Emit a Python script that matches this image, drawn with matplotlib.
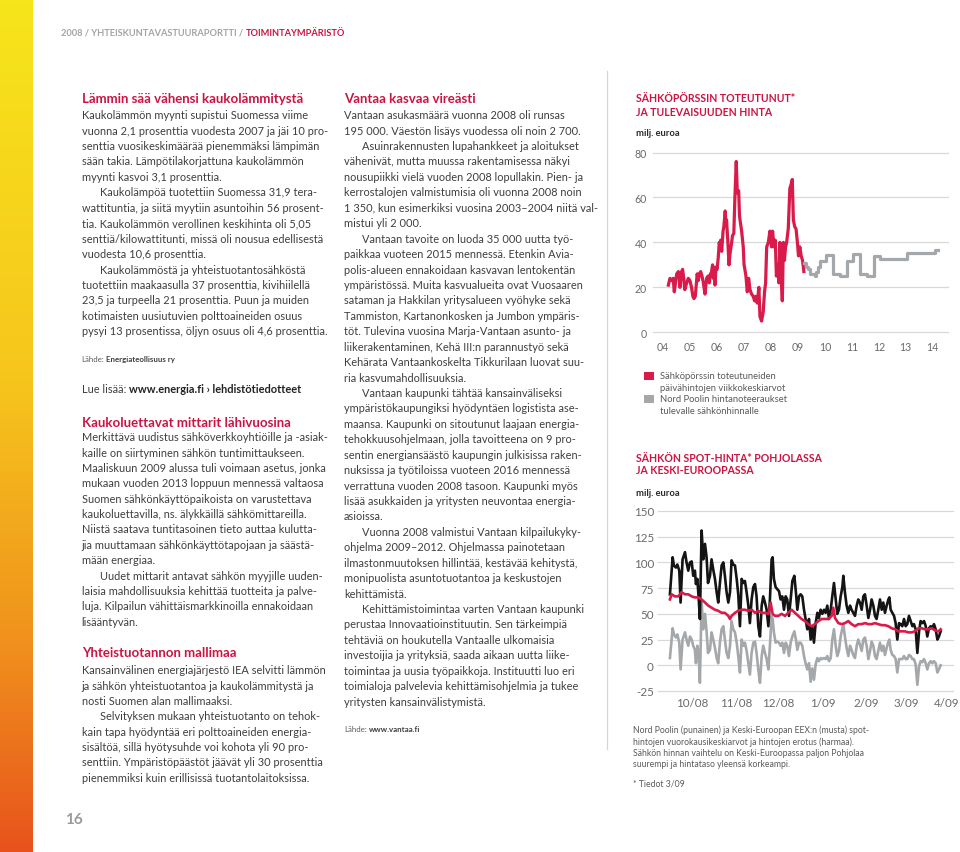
import matplotlib
matplotlib.use("Agg")
import matplotlib.pyplot as plt
import numpy as np
from matplotlib.colors import LinearSegmentedColormap
from matplotlib.lines import Line2D

W, H = 960, 853
plt.rcParams["font.family"] = ["Lato", "DejaVu Sans"]
plt.rcParams["axes.unicode_minus"] = False

CRIMSON = "#cc1443"
BODY = "#3e3e3e"
SOFT = "#5a5a5a"
RED = "#d81b4a"
LIGHT = "#a5a8ab"

# --- chart 1: weekly exchange price and futures quotes (EUR) ---
red_years = [2004.19, 2004.25, 2004.31, 2004.37, 2004.41, 2004.50, 2004.56, 2004.59, 2004.62, 2004.68,
             2004.72, 2004.76, 2004.80, 2004.87, 2004.93, 2004.99, 2005.05, 2005.10, 2005.14, 2005.19,
             2005.26, 2005.30, 2005.34, 2005.39, 2005.44, 2005.49, 2005.55, 2005.61, 2005.66, 2005.71,
             2005.75, 2005.77, 2005.83, 2005.86, 2005.88, 2005.92, 2005.96, 2006.00, 2006.04, 2006.08,
             2006.11, 2006.13, 2006.17, 2006.22, 2006.25, 2006.30, 2006.33, 2006.35, 2006.40, 2006.44,
             2006.48, 2006.54, 2006.57, 2006.62, 2006.66, 2006.71, 2006.75, 2006.80, 2006.83, 2006.85,
             2006.91, 2006.97, 2007.00, 2007.03, 2007.07, 2007.12, 2007.17, 2007.22, 2007.28, 2007.34,
             2007.39, 2007.44, 2007.49, 2007.55, 2007.59, 2007.65, 2007.71, 2007.76, 2007.80, 2007.84,
             2007.90, 2007.96, 2008.02, 2008.06, 2008.11, 2008.16, 2008.20, 2008.26, 2008.29, 2008.33,
             2008.38, 2008.42, 2008.46, 2008.50, 2008.54, 2008.58, 2008.64, 2008.70, 2008.75, 2008.79,
             2008.83, 2008.88, 2008.93, 2008.98, 2009.02, 2009.07, 2009.12, 2009.17, 2009.22]
red_price = [21, 24, 23, 24, 18, 26, 27, 25, 20, 27,
             28, 24, 19, 22, 24, 23, 20, 16, 15, 16,
             26, 23, 26, 27, 25, 22, 17, 24, 25, 22,
             26, 25, 30, 24, 29, 21, 29, 28, 33, 40,
             37, 41, 36, 45, 47, 54, 48, 50, 40, 30,
             35, 40, 43, 44, 60, 76, 62, 63, 52, 50,
             45, 38, 30, 28, 25, 18, 24, 19, 17, 16,
             14, 16, 13, 20, 7, 5, 9, 18, 22, 38,
             40, 45, 38, 45, 38, 41, 25, 30, 22, 40,
             24, 14, 40, 32, 38, 40, 46, 64, 66, 68,
             50, 47, 46, 40, 34, 38, 34, 32, 27]
future_years = [2009.22, 2009.30, 2009.38, 2009.46, 2009.54, 2009.63, 2009.68, 2009.74, 2009.82,
                2010.04, 2010.31, 2010.56, 2010.81, 2011.05, 2011.30, 2011.55, 2011.82, 2012.04,
                2013.05, 2014.08, 2014.19]
future_price = [31, 29, 28, 26, 26, 25, 27, 29, 31.7,
                34.2, 25.8, 25, 31.7, 34.7, 25.8, 25, 34, 32.7,
                35.1, 36.4, 36.4]
year_ticks = [2004, 2005, 2006, 2007, 2008, 2009, 2010, 2011, 2012, 2013, 2014]
year_labels = ["04", "05", "06", "07", "08", "09", "10", "11", "12", "13", "14"]
price_ticks1 = [0, 20, 40, 60, 80]

# --- chart 2: daily spot prices, days counted from 1.10.2008 ---
eex_days = [-15.5, -13.6, -12.7, -11.3, -10.3, -8.9, -8.0, -6.6, -4.9, -3.8,
            -2.6, -1.4, -0.2, 0.9, 2.1, 2.8, 3.8, 4.7, 5.6, 6.8,
            8.0, 9.2, 10.3, 11.3, 12.7, 13.8, 15.0, 16.2, 17.4, 18.5,
            19.7, 20.9, 22.1, 23.2, 24.4, 25.6, 26.8, 27.9, 29.1, 30.3,
            31.5, 32.6, 33.8, 35.0, 36.2, 37.3, 38.5, 39.7, 40.8, 42.0,
            43.2, 44.4, 45.5, 46.7, 47.9, 49.1, 50.2, 51.4, 52.6, 53.8,
            54.9, 56.1, 56.8, 57.7, 58.9, 60.1, 61.3, 62.4, 63.6, 64.8,
            66.0, 67.1, 68.3, 69.5, 70.7, 72.1, 73.2, 74.2, 75.4, 76.5,
            77.7, 78.9, 80.0, 81.2, 82.4, 83.6, 84.7, 85.9, 87.1, 88.3,
            89.4, 90.6, 91.8, 93.0, 94.1, 95.3, 96.5, 97.7, 98.8, 100.0,
            101.2, 102.3, 103.5, 104.7, 105.9, 106.6, 107.7, 108.9, 110.1, 111.3,
            112.4, 113.6, 114.8, 116.0, 117.1, 118.3, 119.5, 120.7, 121.8, 123.0,
            124.2, 125.4, 126.5, 127.7, 128.9, 130.0, 131.2, 132.4, 133.6, 134.7,
            135.9, 137.1, 138.3, 139.0, 139.9, 141.1, 142.3, 143.4, 144.6, 145.8,
            146.9, 148.1, 149.3, 150.5, 151.6, 152.8, 154.0, 155.2, 156.3, 157.5,
            158.7, 159.9, 161.0, 162.2, 163.4, 164.6, 165.7, 166.9, 168.1, 169.2,
            170.4, 171.6, 172.8, 173.9, 175.1]
eex_price = [69, 105, 97, 95, 98, 92, 61, 103, 110, 100,
             92, 100, 101, 87, 92, 79, 84, 66, 45, 131,
             103, 118, 105, 80, 87, 103, 93, 84, 71, 61,
             80, 97, 100, 87, 71, 61, 71, 102, 98, 97,
             84, 69, 38, 84, 80, 82, 71, 58, 41, 64,
             76, 79, 67, 38, 28, 58, 67, 61, 54, 38,
             64, 103, 105, 84, 76, 74, 72, 64, 67, 54,
             67, 64, 48, 64, 82, 87, 71, 54, 67, 69,
             67, 54, 45, 35, 45, 25, 38, 22, 41, 51,
             46, 54, 50, 54, 51, 58, 45, 54, 67, 80,
             64, 50, 54, 67, 76, 87, 71, 58, 51, 58,
             54, 51, 48, 58, 64, 61, 54, 67, 69, 58,
             46, 54, 64, 58, 48, 45, 54, 64, 54, 61,
             51, 58, 64, 66, 54, 51, 48, 41, 25, 41,
             40, 38, 45, 38, 40, 48, 43, 38, 40, 35,
             12, 33, 43, 41, 43, 38, 28, 36, 38, 36,
             40, 35, 25, 28, 33]
diff_price = [7, 36, 30, 27, 30, 22, -4, 25, 32, 25,
              19, 28, 25, 19, 15, 2, 19, 12, -17, 62,
              35, 50, 33, 12, 15, 32, 25, 17, 7, 2,
              22, 35, 38, 25, 12, 7, 19, 43, 35, 32,
              22, 9, -7, 25, 19, 22, 14, 2, -9, 12,
              22, 23, 12, -4, -17, 9, 19, 12, 6, -4,
              19, 48, 45, 32, 22, 23, 22, 19, 22, 12,
              22, 19, 9, 22, 28, 33, 25, 15, 22, 22,
              19, 9, 2, -4, 2, -16, -3, -14, 1, 7,
              4, 7, 6, 7, 6, 9, 4, 7, 25, 35,
              19, 9, 14, 28, 36, 40, 28, 17, 9, 19,
              15, 10, 7, 19, 25, 20, 14, 25, 27, 19,
              6, 14, 23, 19, 9, 6, 14, 22, 14, 19,
              10, 17, 23, 25, 15, 10, 9, 6, -7, 6,
              6, 6, 9, 6, 6, 10, 9, 6, 6, 1,
              -19, -1, 4, 3, 6, 2, -4, 2, 4, 2,
              4, 2, -7, -4, 0]
nord_days = [-15.5, -14.3, -12.0, -9.6, -7.3, -4.9, -2.6, -0.2, 2.1, 4.5,
             6.8, 9.2, 11.5, 13.8, 16.2, 18.5, 20.9, 23.2, 25.6, 26.8,
             27.9, 30.3, 32.6, 35.0, 37.3, 39.7, 42.0, 44.4, 46.7, 49.1,
             51.4, 53.8, 55.4, 56.8, 58.5, 60.8, 63.1, 65.5, 67.8, 70.2,
             72.5, 74.9, 77.2, 79.6, 81.9, 84.3, 86.6, 89.0, 91.3, 93.7,
             96.0, 98.4, 99.5, 100.7, 103.1, 105.4, 107.7, 110.1, 112.4, 114.8,
             117.1, 119.5, 121.8, 124.2, 126.5, 128.9, 131.2, 133.6, 135.9, 138.3,
             140.6, 143.0, 145.3, 147.7, 150.0, 152.3, 154.7, 157.0, 159.4, 161.7,
             164.1, 166.4, 168.8, 171.1, 173.5, 175.1]
nord_price = [64, 69, 67, 67, 71, 69, 69, 67, 66, 66,
              64, 61, 58, 56, 54, 53, 51, 51, 48, 45,
              48, 51, 53, 54, 54, 53, 54, 51, 53, 51,
              51, 50, 61, 50, 48, 48, 50, 48, 51, 54,
              51, 48, 45, 43, 40, 38, 40, 43, 45, 45,
              45, 48, 56, 46, 41, 40, 41, 43, 40, 38,
              40, 40, 41, 40, 40, 41, 40, 39, 39, 38,
              36, 35, 33, 33, 33, 32, 32, 33, 36, 36,
              35, 35, 36, 34, 33, 35]
month_days = [0, 31, 61, 92, 123, 151, 182]
month_labels = ["10/08", "11/08", "12/08", "1/09", "2/09", "3/09", "4/09"]
price_ticks2 = [-25, 0, 25, 50, 75, 100, 125, 150]

# --- page texts ---
header_grey = "2008 / YHTEISKUNTAVASTUURAPORTTI /"
header_red = "TOIMINTAYMPÄRISTÖ"

col1_head1 = "Lämmin sää vähensi kaukolämmitystä"
col1_par1 = [
    "Kaukolämmön myynti supistui Suomessa viime",
    "vuonna 2,1 prosenttia vuodesta 2007 ja jäi 10 pro-",
    "senttia vuosikeskimäärää pienemmäksi lämpimän",
    "sään takia. Lämpötilakorjattuna kaukolämmön",
    "myynti kasvoi 3,1 prosenttia.",
    "\tKaukolämpöä tuotettiin Suomessa 31,9 tera-",
    "wattituntia, ja siitä myytiin asuntoihin 56 prosent-",
    "tia. Kaukolämmön verollinen keskihinta oli 5,05",
    "senttiä/kilowattitunti, missä oli nousua edellisestä",
    "vuodesta 10,6 prosenttia.",
    "\tKaukolämmöstä ja yhteistuotantosähköstä",
    "tuotettiin maakaasulla 37 prosenttia, kivihiilellä",
    "23,5 ja turpeella 21 prosenttia. Puun ja muiden",
    "kotimaisten uusiutuvien polttoaineiden osuus",
    "pysyi 13 prosentissa, öljyn osuus oli 4,6 prosenttia.",
]
col1_head2 = "Kaukoluettavat mittarit lähivuosina"
col1_par2 = [
    "Merkittävä uudistus sähköverkkoyhtiöille ja -asiak-",
    "kaille on siirtyminen sähkön tuntimittaukseen.",
    "Maaliskuun 2009 alussa tuli voimaan asetus, jonka",
    "mukaan vuoden 2013 loppuun mennessä valtaosa",
    "Suomen sähkönkäyttöpaikoista on varustettava",
    "kaukoluettavilla, ns. älykkäillä sähkömittareilla.",
    "Niistä saatava tuntitasoinen tieto auttaa kulutta-",
    "jia muuttamaan sähkönkäyttötapojaan ja säästä-",
    "mään energiaa.",
    "\tUudet mittarit antavat sähkön myyjille uuden-",
    "laisia mahdollisuuksia kehittää tuotteita ja palve-",
    "luja. Kilpailun vähittäismarkkinoilla ennakoidaan",
    "lisääntyvän.",
]
col1_head3 = "Yhteistuotannon mallimaa"
col1_par3 = [
    "Kansainvälinen energiajärjestö IEA selvitti lämmön",
    "ja sähkön yhteistuotantoa ja kaukolämmitystä ja",
    "nosti Suomen alan mallimaaksi.",
    "\tSelvityksen mukaan yhteistuotanto on tehok-",
    "kain tapa hyödyntää eri polttoaineiden energia-",
    "sisältöä, sillä hyötysuhde voi kohota yli 90 pro-",
    "senttiin. Ympäristöpäästöt jäävät yli 30 prosenttia",
    "pienemmiksi kuin erillisissä tuotantolaitoksissa.",
]
col2_head = "Vantaa kasvaa vireästi"
col2_par = [
    "Vantaan asukasmäärä vuonna 2008 oli runsas",
    "195 000. Väestön lisäys vuodessa oli noin 2 700.",
    "\tAsuinrakennusten lupahankkeet ja aloitukset",
    "vähenivät, mutta muussa rakentamisessa näkyi",
    "nousupiikki vielä vuoden 2008 lopullakin. Pien- ja",
    "kerrostalojen valmistumisia oli vuonna 2008 noin",
    "1 350, kun esimerkiksi vuosina 2003–2004 niitä val-",
    "mistui yli 2 000.",
    "\tVantaan tavoite on luoda 35 000 uutta työ-",
    "paikkaa vuoteen 2015 mennessä. Etenkin Avia-",
    "polis-alueen ennakoidaan kasvavan lentokentän",
    "ympäristössä. Muita kasvualueita ovat Vuosaaren",
    "sataman ja Hakkilan yritysalueen vyöhyke sekä",
    "Tammiston, Kartanonkosken ja Jumbon ympäris-",
    "töt. Tulevina vuosina Marja-Vantaan asunto- ja",
    "liikerakentaminen, Kehä III:n parannustyö sekä",
    "Kehärata Vantaankoskelta Tikkurilaan luovat suu-",
    "ria kasvumahdollisuuksia.",
    "\tVantaan kaupunki tähtää kansainväliseksi",
    "ympäristökaupungiksi hyödyntäen logistista ase-",
    "maansa. Kaupunki on sitoutunut laajaan energia-",
    "tehokkuusohjelmaan, jolla tavoitteena on 9 pro-",
    "sentin energiansäästö kaupungin julkisissa raken-",
    "nuksissa ja työtiloissa vuoteen 2016 mennessä",
    "verrattuna vuoden 2008 tasoon. Kaupunki myös",
    "lisää asukkaiden ja yritysten neuvontaa energia-",
    "asioissa.",
    "\tVuonna 2008 valmistui Vantaan kilpailukyky-",
    "ohjelma 2009–2012. Ohjelmassa painotetaan",
    "ilmastonmuutoksen hillintää, kestävää kehitystä,",
    "monipuolista asuntotuotantoa ja keskustojen",
    "kehittämistä.",
    "\tKehittämistoimintaa varten Vantaan kaupunki",
    "perustaa Innovaatioinstituutin. Sen tärkeimpiä",
    "tehtäviä on houkutella Vantaalle ulkomaisia",
    "investoijia ja yrityksiä, saada aikaan uutta liike-",
    "toimintaa ja uusia työpaikkoja. Instituutti luo eri",
    "toimialoja palvelevia kehittämisohjelmia ja tukee",
    "yritysten kansainvälistymistä.",
]
chart1_title = ["SÄHKÖPÖRSSIN TOTEUTUNUT*", "JA TULEVAISUUDEN HINTA"]
chart2_title = ["SÄHKÖN SPOT-HINTA* POHJOLASSA", "JA KESKI-EUROOPASSA"]
unit_label = "milj. euroa"
legend1 = [("Sähköpörssin toteutuneiden", "päivähintojen viikkokeskiarvot"),
           ("Nord Poolin hintanoteeraukset", "tulevalle sähkönhinnalle")]
caption2 = [
    "Nord Poolin (punainen) ja Keski-Euroopan EEX:n (musta) spot-",
    "hintojen vuorokausikeskiarvot ja hintojen erotus (harmaa).",
    "Sähkön hinnan vaihtelu on Keski-Euroopassa paljon Pohjolaa",
    "suurempi ja hintataso yleensä korkeampi.",
]
footnote2 = "* Tiedot 3/09"

# ------------------------------------------------------------------
fig = plt.figure(figsize=(9.6, 8.53), dpi=100)
renderer = fig.canvas.get_renderer()


def fy(y):
    return 1 - y / H


def width_of(s, size, weight="normal"):
    t = fig.text(0, 0, s, fontsize=size, fontweight=weight)
    w = t.get_window_extent(renderer).width
    t.remove()
    return w


def fit(s, target, weight="normal"):
    return 10 * target / width_of(s, 10, weight)


def put(x, y, s, size, color=BODY, weight="normal"):
    fig.text(x / W, fy(y), s, fontsize=size, color=color, fontweight=weight,
             ha="left", va="center")


def runs(x, y, parts, size):
    gap = width_of("n n", size) - width_of("nn", size)
    for s, color, weight in parts:
        put(x, y, s, size, color, weight)
        x += width_of(s, size, weight) + gap


def block(x, y0, lines, size, step):
    for i, s in enumerate(lines):
        dx = 18 if s.startswith("\t") else 0
        put(x + dx, y0 + i * step, s.lstrip("\t"), size)


body_fs = fit(col1_par1[0], 225)
head_fs = fit(col1_head1, 221, "bold")
src_fs = fit("Lähde: Energiateollisuus ry", 93)
hdr_fs = fit(header_grey + " " + header_red, 288, "bold")
ttl_fs = fit(chart1_title[0], 160, "bold")
leg_fs = fit(legend1[0][0], 116)
cap_fs = fit(caption2[0], 236)

# coloured edge strip
strip = fig.add_axes([0, 0, 33 / W, 1])
cmap = LinearSegmentedColormap.from_list(
    "edge", [(0, "#f7e51b"), (0.45, "#f6c51d"), (0.75, "#f0921c"), (1, "#e8521c")])
strip.imshow(np.linspace(0, 1, 256).reshape(-1, 1), cmap=cmap, aspect="auto")
strip.axis("off")

# header and page number
runs(61, 33.3, [(header_grey, "#a3a3a3", "bold"), (header_red, CRIMSON, "bold")], hdr_fs)
put(65, 820, "16", 11, "#9a9a9a", "bold")

# column 1
put(81.7, 99, col1_head1, head_fs, CRIMSON, "bold")
block(81.7, 115.7, col1_par1, body_fs, 15.43)
runs(81.7, 359.3, [("Lähde:", SOFT, "normal"), ("Energiateollisuus ry", BODY, "bold")], src_fs)
runs(81.7, 389.3, [("Lue lisää:", BODY, "normal"),
                   ("www.energia.fi › lehdistötiedotteet", "#222222", "bold")], body_fs)
put(81.7, 422.7, col1_head2, head_fs, CRIMSON, "bold")
block(81.7, 437.7, col1_par2, body_fs, 15.38)
put(81.7, 653.3, col1_head3, head_fs, CRIMSON, "bold")
block(81.7, 670.7, col1_par3, body_fs, 15.35)

# column 2
put(344, 99, col2_head, head_fs, CRIMSON, "bold")
block(344, 115.7, col2_par, body_fs, 15.43)
runs(344, 730, [("Lähde:", SOFT, "normal"), ("www.vantaa.fi", BODY, "bold")], src_fs)

# divider
fig.add_artist(Line2D([607 / W, 607 / W], [fy(72), fy(750)], color="#d6d6d6", lw=0.9))

# chart titles, units, legend, captions
for i, s in enumerate(chart1_title):
    put(636, 98.3 + 14 * i, s, ttl_fs, CRIMSON, "bold")
put(636, 133.3, unit_label, leg_fs, "#2a2a2a", "bold")
for (l1, l2), col, ysq in zip(legend1, [RED, LIGHT], [372.7, 395.7]):
    fig.add_artist(plt.Rectangle((644 / W, fy(ysq + 8)), 9.5 / W, 8 / H, color=col, lw=0))
    put(660, ysq + 4, l1, leg_fs, SOFT)
    put(660, ysq + 15.6, l2, leg_fs, SOFT)
for i, s in enumerate(chart2_title):
    put(636, 458.3 + 12.5 * i, s, ttl_fs, CRIMSON, "bold")
put(636, 494, unit_label, leg_fs, "#2a2a2a", "bold")
for i, s in enumerate(caption2):
    put(632.7, 730.5 + 11.5 * i, s, cap_fs, SOFT)
put(632.7, 784, footnote2, cap_fs, SOFT)


def style(ax, yticks, ylabel_pad, xlabel_pad, size):
    ax.set_yticks(yticks)
    ax.grid(axis="y", color="#d9d9d9", lw=0.9)
    ax.set_axisbelow(True)
    for sp in ax.spines.values():
        sp.set_visible(False)
    ax.tick_params(length=0, labelsize=size, labelcolor="#6a6a6a")
    ax.tick_params(axis="y", pad=ylabel_pad)
    ax.tick_params(axis="x", pad=xlabel_pad)
    for gl in ax.get_ygridlines():
        gl.set_clip_on(False)


# chart 1
ax1 = fig.add_axes([653 / W, fy(333.3), (948 - 653) / W, (333.3 - 153.5) / H])
ax1.plot(red_years, red_price, color=RED, lw=2.3)
ax1.step(future_years, future_price, where="post", color=LIGHT, lw=2.3)
ax1.set_xlim(2003.62, 2014.57)
ax1.set_ylim(0, 80)
ax1.set_xticks(year_ticks, year_labels)
style(ax1, price_ticks1, 4.3, 6, 7.6)

# chart 2
ax2 = fig.add_axes([658 / W, fy(692), (953 - 658) / W, (692 - 512) / H])
ax2.plot(eex_days, diff_price, color=LIGHT, lw=1.9)
ax2.plot(eex_days, eex_price, color="#141414", lw=1.9)
ax2.plot(nord_days, nord_price, color=RED, lw=1.9)
ax2.set_xlim(-23.9, 183.8)
ax2.set_ylim(-25, 150)
# last month label sits at the page edge; nudge it inwards so it stays whole
ax2.set_xticks(month_days, month_labels[:-1] + [""])
style(ax2, price_ticks2, 3, 4.5, 8.4)
ax2.annotate(month_labels[-1], xy=(month_days[-1], 0), xycoords=ax2.get_xaxis_transform(),
             xytext=(-3, -4.5), textcoords="offset points", ha="center", va="top",
             fontsize=8.4, color="#6a6a6a")

fig.savefig("out.png", dpi=100)
